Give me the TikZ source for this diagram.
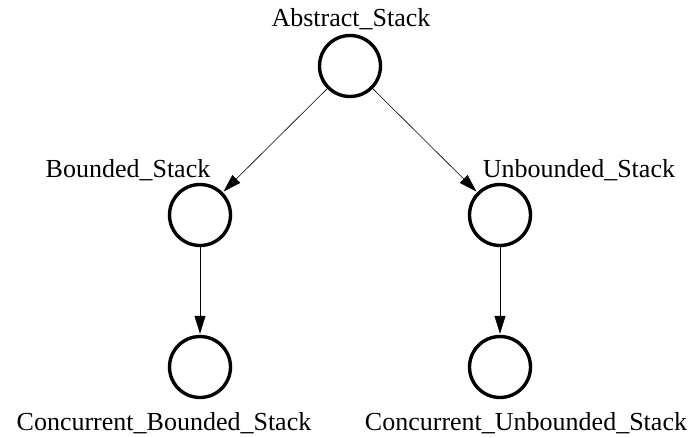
\documentclass[tikz,border=0pt]{standalone}
\usepackage{fontspec}
\setmainfont{Liberation Serif}
\usetikzlibrary{arrows.meta}
\begin{document}
\begin{tikzpicture}[x=1pt,y=-1pt,
  state/.style={draw=black,line width=3.4pt,circle,minimum size=61pt,inner sep=0pt},
  tag/.style={font=\fontsize{26}{28}\selectfont,anchor=base,inner sep=0pt},
  link/.style={draw=black,line width=0.6pt,-{Triangle[length=18pt,width=11pt]},shorten >=1pt}]
  \useasboundingbox (0,0) rectangle (692,437);
  % states
  \node[state] (abs) at (350,66) {};
  \node[state] (bnd) at (200,215) {};
  \node[state] (unb) at (500,215) {};
  \node[state] (cbnd) at (200,367) {};
  \node[state] (cunb) at (500,367) {};
  % external labels
  \node[tag] (absl) at (351,26) {Abstract\_Stack};
  \node[tag] (bndl) at (128,177) {Bounded\_Stack};
  \node[tag] (unbl) at (579,177) {Unbounded\_Stack};
  \node[tag] (cbndl) at (164,430) {Concurrent\_Bounded\_Stack};
  \node[tag] (cunbl) at (526,430) {Concurrent\_Unbounded\_Stack};
  % inheritance edges
  \draw[link] (abs) -- (bnd);
  \draw[link] (abs) -- (unb);
  \draw[link] (bnd) -- (cbnd);
  \draw[link] (unb) -- (cunb);
\end{tikzpicture}
\end{document}
